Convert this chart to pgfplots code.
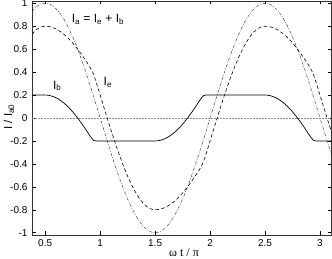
\documentclass[border=0pt]{standalone}
\usepackage{fontspec}
\setmainfont{Liberation Sans}
\newfontfamily\seriffont{Liberation Serif}
\usepackage{pgfplots}
\pgfplotsset{compat=1.18}
\usepackage{pgfplotstable}
\pgfplotstableread{
x Ia Ib Ie
0.38 0.9298 0.2 0.7298
0.40 0.9511 0.2 0.7511
0.42 0.9686 0.2 0.7686
0.44 0.9823 0.2 0.7823
0.46 0.9921 0.2 0.7921
0.48 0.9980 0.2 0.7980
0.50 1.0000 0.2 0.8000
0.52 0.9980 0.199 0.799
0.54 0.9921 0.196 0.796
0.56 0.9823 0.191 0.791
0.58 0.9686 0.184 0.784
0.60 0.9511 0.176 0.776
0.62 0.9298 0.165 0.765
0.64 0.9048 0.152 0.752
0.66 0.8763 0.138 0.738
0.68 0.8443 0.122 0.722
0.70 0.8090 0.105 0.705
0.72 0.7705 0.085 0.685
0.74 0.7290 0.065 0.665
0.76 0.6845 0.042 0.642
0.78 0.6374 0.019 0.619
0.80 0.5878 -0.006 0.594
0.82 0.5358 -0.032 0.568
0.84 0.4818 -0.059 0.541
0.86 0.4258 -0.087 0.513
0.88 0.3681 -0.116 0.484
0.90 0.3090 -0.146 0.455
0.92 0.2487 -0.172 0.421
0.94 0.1874 -0.195 0.382
0.96 0.1253 -0.2 0.325
0.98 0.0628 -0.2 0.263
1.00 0 -0.2 0.2
1.02 -0.0628 -0.2 0.137
1.04 -0.1253 -0.2 0.075
1.06 -0.1874 -0.2 0.013
1.08 -0.2487 -0.2 -0.049
1.10 -0.3090 -0.2 -0.109
1.12 -0.3681 -0.2 -0.168
1.14 -0.4258 -0.2 -0.226
1.16 -0.4818 -0.2 -0.282
1.18 -0.5358 -0.2 -0.336
1.20 -0.5878 -0.2 -0.388
1.22 -0.6374 -0.2 -0.437
1.24 -0.6845 -0.2 -0.485
1.26 -0.7290 -0.2 -0.529
1.28 -0.7705 -0.2 -0.571
1.30 -0.8090 -0.2 -0.609
1.32 -0.8443 -0.2 -0.644
1.34 -0.8763 -0.2 -0.676
1.36 -0.9048 -0.2 -0.705
1.38 -0.9298 -0.2 -0.730
1.40 -0.9511 -0.2 -0.751
1.42 -0.9686 -0.2 -0.769
1.44 -0.9823 -0.2 -0.782
1.46 -0.9921 -0.2 -0.792
1.48 -0.9980 -0.2 -0.798
1.50 -1.0000 -0.2 -0.800
1.52 -0.9980 -0.199 -0.799
1.54 -0.9921 -0.196 -0.796
1.56 -0.9823 -0.191 -0.791
1.58 -0.9686 -0.184 -0.784
1.60 -0.9511 -0.176 -0.776
1.62 -0.9298 -0.165 -0.765
1.64 -0.9048 -0.152 -0.752
1.66 -0.8763 -0.138 -0.738
1.68 -0.8443 -0.122 -0.722
1.70 -0.8090 -0.105 -0.705
1.72 -0.7705 -0.085 -0.685
1.74 -0.7290 -0.065 -0.665
1.76 -0.6845 -0.042 -0.642
1.78 -0.6374 -0.019 -0.619
1.80 -0.5878 0.006 -0.594
1.82 -0.5358 0.032 -0.568
1.84 -0.4818 0.059 -0.541
1.86 -0.4258 0.087 -0.513
1.88 -0.3681 0.116 -0.484
1.90 -0.3090 0.146 -0.455
1.92 -0.2487 0.172 -0.421
1.94 -0.1874 0.195 -0.382
1.96 -0.1253 0.2 -0.325
1.98 -0.0628 0.2 -0.263
2.00 0 0.2 -0.2
2.02 0.0628 0.2 -0.137
2.04 0.1253 0.2 -0.075
2.06 0.1874 0.2 -0.013
2.08 0.2487 0.2 0.049
2.10 0.3090 0.2 0.109
2.12 0.3681 0.2 0.168
2.14 0.4258 0.2 0.226
2.16 0.4818 0.2 0.282
2.18 0.5358 0.2 0.336
2.20 0.5878 0.2 0.388
2.22 0.6374 0.2 0.437
2.24 0.6845 0.2 0.485
2.26 0.7290 0.2 0.529
2.28 0.7705 0.2 0.571
2.30 0.8090 0.2 0.609
2.32 0.8443 0.2 0.644
2.34 0.8763 0.2 0.676
2.36 0.9048 0.2 0.705
2.38 0.9298 0.2 0.730
2.40 0.9511 0.2 0.751
2.42 0.9686 0.2 0.769
2.44 0.9823 0.2 0.782
2.46 0.9921 0.2 0.792
2.48 0.9980 0.2 0.798
2.50 1.0000 0.2 0.800
2.52 0.9980 0.199 0.799
2.54 0.9921 0.196 0.796
2.56 0.9823 0.191 0.791
2.58 0.9686 0.184 0.784
2.60 0.9511 0.176 0.776
2.62 0.9298 0.165 0.765
2.64 0.9048 0.152 0.752
2.66 0.8763 0.138 0.738
2.68 0.8443 0.122 0.722
2.70 0.8090 0.105 0.705
2.72 0.7705 0.085 0.685
2.74 0.7290 0.065 0.665
2.76 0.6845 0.042 0.642
2.78 0.6374 0.019 0.619
2.80 0.5878 -0.006 0.594
2.82 0.5358 -0.032 0.568
2.84 0.4818 -0.059 0.541
2.86 0.4258 -0.087 0.513
2.88 0.3681 -0.116 0.484
2.90 0.3090 -0.146 0.455
2.92 0.2487 -0.172 0.421
2.94 0.1874 -0.195 0.382
2.96 0.1253 -0.2 0.325
2.98 0.0628 -0.2 0.263
3.00 0 -0.2 0.2
3.02 -0.0628 -0.2 0.137
3.04 -0.1253 -0.2 0.075
3.06 -0.1874 -0.2 0.013
3.08 -0.2487 -0.2 -0.049
3.10 -0.3090 -0.2 -0.109
}\data
\begin{document}
\begin{tikzpicture}
\useasboundingbox (-32pt,-24pt) rectangle (300pt,235pt);
\begin{axis}[
  at={(0pt,0pt)}, anchor=south west,
  scale only axis, width=299pt, height=234pt,
  xmin=0.38, xmax=3.1, ymin=-1.02, ymax=1.02,
  xtick={0.5,1,1.5,2,2.5,3},
  ytick={-1,-0.8,-0.6,-0.4,-0.2,0,0.2,0.4,0.6,0.8,1},
  tick align=inside, major tick length=3.5pt,
  tick style={black, line width=0.5pt},
  axis line style={line width=0.7pt, black!80},
  /pgf/number format/assume math mode=true,
  ticklabel style={font=\fontsize{10}{12}\selectfont},
  yticklabel style={xshift=-1pt},
  xticklabel style={yshift=-1pt},
  clip=true,
]
\addplot[black!45, densely dotted, line width=0.5pt] coordinates {(0.38,0) (3.1,0)};
\addplot[black!80, line width=0.45pt, dash pattern=on 3pt off 1.5pt on 0.8pt off 1.5pt] table[x=x, y=Ia] {\data};
\addplot[black, line width=0.6pt, dash pattern=on 3.5pt off 2.5pt] table[x=x, y=Ie] {\data};
\addplot[black, line width=0.7pt] table[x=x, y=Ib] {\data};
\node[font=\fontsize{12}{14}\selectfont] at (axis cs:0.98,0.86) {I\textsubscript{a} = I\textsubscript{e} + I\textsubscript{b}};
\node[font=\fontsize{12}{14}\selectfont] at (axis cs:0.61,0.28) {I\textsubscript{b}};
\node[font=\fontsize{12}{14}\selectfont] at (axis cs:1.07,0.31) {I\textsubscript{e}};
\end{axis}
\node[rotate=90, font=\fontsize{11.5}{13}\selectfont] at (-23pt,118pt) {I / I\textsubscript{a0}};
\node[font=\seriffont\fontsize{12}{14}\selectfont] at (152pt,-18pt) {ω t / π};
\end{tikzpicture}
\end{document}
